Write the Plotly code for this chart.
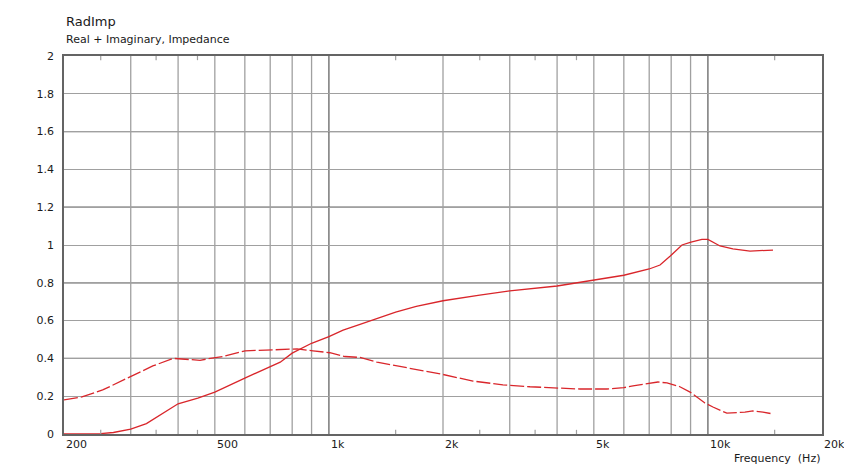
import numpy as np
import plotly.graph_objects as go

# ---- data ----
real_freq = [200, 250, 270, 290, 300, 330, 348, 400, 451, 500, 600, 700, 744, 800, 900,
             1000, 1090, 1208, 1500, 1700, 2000, 2500, 3000, 4000, 5000, 6000, 7000,
             7475, 7943, 8542, 9023, 9643, 10000, 10764, 11640, 12914, 14850]
real_vals = [0.0, 0.002, 0.008, 0.018, 0.026, 0.055, 0.085, 0.16, 0.19, 0.222, 0.296, 0.355,
             0.38, 0.428, 0.48, 0.515, 0.55, 0.58, 0.645, 0.675, 0.705, 0.735, 0.757, 0.783,
             0.815, 0.84, 0.873, 0.894, 0.94, 1.0, 1.015, 1.03, 1.03, 0.995, 0.98, 0.968, 0.973]

imag_freq = [200, 223, 253, 295, 312, 343, 388, 457, 486, 526, 601, 712, 824, 908, 1006,
             1103, 1208, 1339, 1476, 1700, 2000, 2400, 2878, 3393, 3900, 4597, 5416, 6000,
             6343, 7000, 7380, 7800, 8434, 9000, 9528, 9820, 10310, 11220, 12520, 13150,
             13970, 14850]
imag_vals = [0.18, 0.196, 0.233, 0.296, 0.317, 0.36, 0.40, 0.39, 0.40, 0.41, 0.44, 0.445,
             0.45, 0.44, 0.43, 0.41, 0.405, 0.38, 0.365, 0.34, 0.315, 0.28, 0.26, 0.25, 0.243,
             0.238, 0.238, 0.245, 0.255, 0.27, 0.275, 0.27, 0.25, 0.22, 0.185, 0.164, 0.143,
             0.11, 0.116, 0.122, 0.116, 0.106]

x_tick_vals = [200, 500, 1000, 2000, 5000, 10000, 20000]
x_tick_text = ["200", "500", "1k", "2k", "5k", "10k", "20k"]
light_vgrid = [300, 400, 500, 600, 700, 800, 900, 2000, 3000, 4000, 5000, 6000, 7000, 8000, 9000]
dark_vgrid = [1000, 10000]
minor_ticks = [250, 350, 450, 1500, 2500, 3500, 4500, 15000]
y_dark = [0.4, 0.8, 1.2, 1.6]

RED = "#d9262b"
LIGHT = "#a0a0a0"
DARK = "#646464"
FONT = "DejaVu Sans"

fig = go.Figure()
fig.add_trace(go.Scatter(x=real_freq, y=real_vals, mode="lines",
                         line=dict(color=RED, width=1.3), hoverinfo="skip", showlegend=False))
fig.add_trace(go.Scatter(x=imag_freq, y=imag_vals, mode="lines",
                         line=dict(color=RED, width=1.3, dash="14px,3px"),
                         hoverinfo="skip", showlegend=False))

shapes = []
for f in light_vgrid:
    shapes.append(dict(type="line", xref="x", yref="y", x0=f, x1=f, y0=0, y1=2,
                       line=dict(color=LIGHT, width=1.3), layer="below"))
for f in dark_vgrid:
    shapes.append(dict(type="line", xref="x", yref="y", x0=f, x1=f, y0=0, y1=2,
                       line=dict(color=DARK, width=1.3), layer="below"))
for v in y_dark:
    shapes.append(dict(type="line", xref="paper", yref="y", x0=0, x1=1, y0=v, y1=v,
                       line=dict(color=DARK, width=1.3), layer="below"))
for f in minor_ticks:
    shapes.append(dict(type="line", xref="x", yref="y", x0=f, x1=f, y0=0, y1=0.022,
                       line=dict(color=LIGHT, width=1.2)))
    shapes.append(dict(type="line", xref="x", yref="y", x0=f, x1=f, y0=2, y1=1.978,
                       line=dict(color=LIGHT, width=1.2)))

plot_h = 469 - 56 - 35
annotations = []
for v, t in zip(x_tick_vals, x_tick_text):
    annotations.append(dict(x=np.log10(v), xref="x", y=-10 / plot_h, yref="paper",
                            text=t, showarrow=False, xanchor="left", yanchor="middle",
                            font=dict(family=FONT, size=11, color="#1a1a1a")))
annotations.append(dict(x=1, xref="paper", y=-24 / plot_h, yref="paper", text="Frequency  (Hz)",
                        showarrow=False, xanchor="right", yanchor="middle",
                        font=dict(family=FONT, size=11, color="#1a1a1a")))
annotations.append(dict(x=0, xref="paper", y=1 + 35 / plot_h, yref="paper", text="RadImp",
                        showarrow=False, xanchor="left", yanchor="middle",
                        font=dict(family=FONT, size=13, color="#1a1a1a")))
annotations.append(dict(x=0, xref="paper", y=1 + 17 / plot_h, yref="paper",
                        text="Real + Imaginary, Impedance",
                        showarrow=False, xanchor="left", yanchor="middle",
                        font=dict(family=FONT, size=11, color="#1a1a1a")))

fig.update_layout(
    width=844, height=469,
    margin=dict(l=64, r=22, t=56, b=35),
    paper_bgcolor="white", plot_bgcolor="white",
    shapes=shapes, annotations=annotations,
    xaxis=dict(type="log", range=[np.log10(200), np.log10(20000)], showgrid=False,
               showticklabels=False, ticks="", zeroline=False,
               showline=True, mirror=True, linecolor=DARK, linewidth=1.5),
    yaxis=dict(range=[0, 2], dtick=0.2, tick0=0, showgrid=True, gridcolor=LIGHT, gridwidth=1.3,
               zeroline=False, showline=True, mirror=True, linecolor=DARK, linewidth=1.5,
               ticks="", ticklabelstandoff=6,
               tickfont=dict(family=FONT, size=11, color="#1a1a1a")),
)

fig.write_html("out.html", config={"displayModeBar": False},
               post_script="document.body.style.margin='0';document.body.style.padding='0';"
                           "document.body.style.overflow='hidden';")
